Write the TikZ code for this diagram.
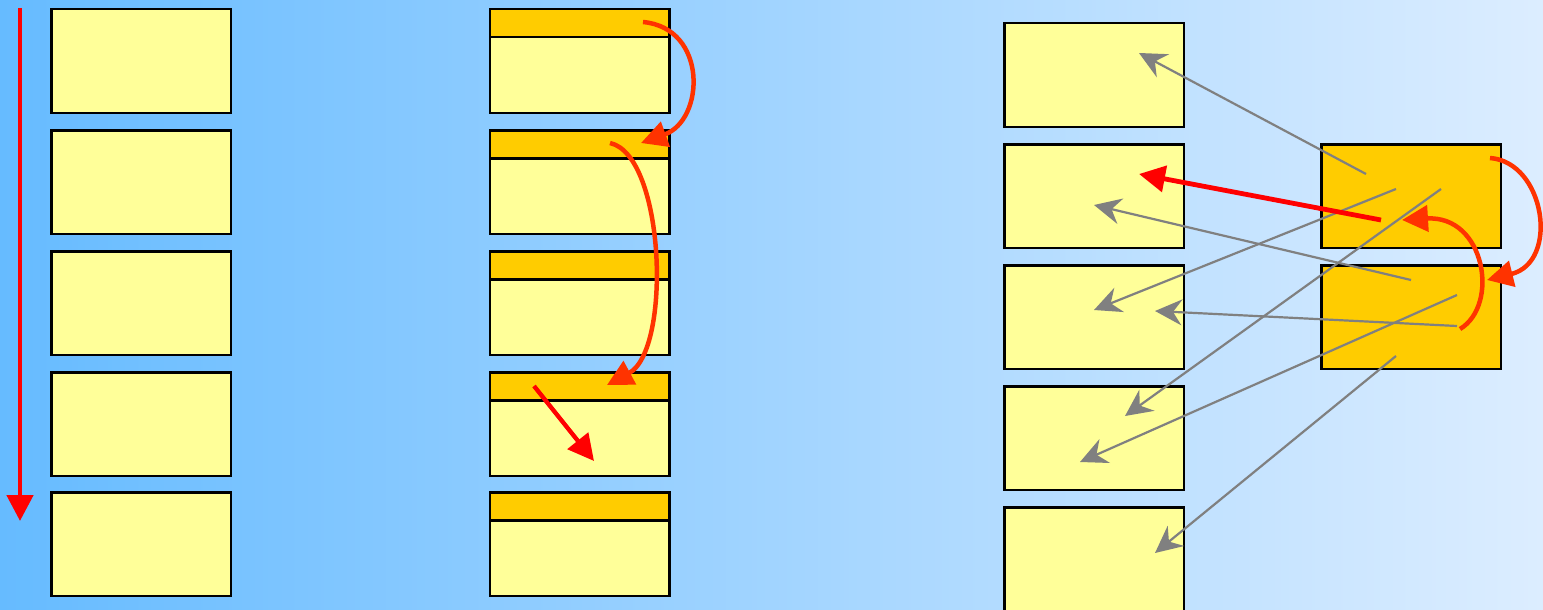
\documentclass[tikz,border=0pt]{standalone}
\usetikzlibrary{arrows.meta}
\definecolor{boxyellow}{RGB}{255,255,153}
\definecolor{hdrorange}{RGB}{255,204,0}
\definecolor{arrred}{RGB}{255,0,0}
\definecolor{arrorange}{RGB}{255,51,0}
\definecolor{arrgray}{RGB}{128,128,128}
\definecolor{bgleft}{RGB}{102,187,255}
\definecolor{bgright}{RGB}{220,237,255}
\tikzset{
  cell/.style={draw=black, line width=2.5pt, fill=boxyellow, minimum width=179.5pt, minimum height=103.5pt, inner sep=0pt, outer sep=0pt, anchor=north west},
  hotcell/.style={cell, fill=hdrorange},
  hdr/.style={draw=black, line width=2.5pt, fill=hdrorange},
  grayarr/.style={draw=arrgray, line width=2.2pt, -{Stealth[length=27pt,width=26pt,inset=9pt]}},
  redarr/.style={draw=arrred, line width=4.8pt, -{Triangle[length=26pt,width=26pt]}},
  curvarr/.style={draw=arrorange, line width=4.5pt, -{Triangle[length=26pt,width=26pt]}}
}
\begin{document}
\begin{tikzpicture}[x=1pt,y=-1pt]
\useasboundingbox (0,0) rectangle (1543,610);
\shade[left color=bgleft, right color=bgright] (0,0) rectangle (1543,610);

% column 1
\foreach \i/\y in {1/9.25,2/130.25,3/251.25,4/372.25,5/492.25}{
  \node[cell] (a\i) at (51.25,\y) {};
}
\coordinate (a0s) at (20,8);
\coordinate (a0e) at (20,521);
\draw[redarr] (a0s) -- (a0e);

% column 2
\foreach \i/\y in {1/9.25,2/130.25,3/251.25,4/372.25,5/492.25}{
  \node[cell] (b\i) at (489.75,\y) {};
  \draw[hdr] (b\i.north west) rectangle ([yshift=-28pt]b\i.north east);
}
\coordinate (c1s) at (643,22);
\coordinate (c1e) at (641,143);
\draw[curvarr] (c1s) .. controls (708,28) and (705,120) .. (c1e);
\coordinate (c2s) at (610,143);
\coordinate (c2e) at (607,385);
\draw[curvarr] (c2s) .. controls (665,155) and (672,350) .. (c2e);
\coordinate (r1s) at (534,386);
\coordinate (r1e) at (594,461);
\draw[redarr, line width=4.3pt] (r1s) -- (r1e);

% column 3
\foreach \i/\y in {1/23.25,2/144.25,3/265.25,4/386.25,5/507.25}{
  \node[cell] (d\i) at (1004.25,\y) {};
}
\node[hotcell] (e1) at (1321.25,144.25) {};
\node[hotcell] (e2) at (1321.25,265.25) {};

\coordinate (g1s) at (1366,174); \coordinate (g1e) at (1139,53);
\coordinate (g2s) at (1411,280); \coordinate (g2e) at (1094,205);
\coordinate (g3s) at (1396,189); \coordinate (g3e) at (1094,310);
\coordinate (g4s) at (1457,326); \coordinate (g4e) at (1155,311);
\coordinate (g5s) at (1441,189); \coordinate (g5e) at (1125,416);
\coordinate (g6s) at (1457,295); \coordinate (g6e) at (1080,462);
\coordinate (g7s) at (1396,356); \coordinate (g7e) at (1155,553);
\foreach \k in {1,...,7}{
  \draw[grayarr] (g\k s) -- (g\k e);
}
\coordinate (r2s) at (1381,220);
\coordinate (r2e) at (1139,174);
\draw[redarr] (r2s) -- (r2e);

\coordinate (caS) at (1490,158);
\coordinate (caE) at (1487,280);
\draw[curvarr] (caS) .. controls (1545,162) and (1560,262) .. (caE);
\coordinate (cbS) at (1460,329);
\coordinate (cbE) at (1402,220);
\draw[curvarr] (cbS) .. controls (1500,305) and (1485,215) .. (cbE);
\end{tikzpicture}
\end{document}
